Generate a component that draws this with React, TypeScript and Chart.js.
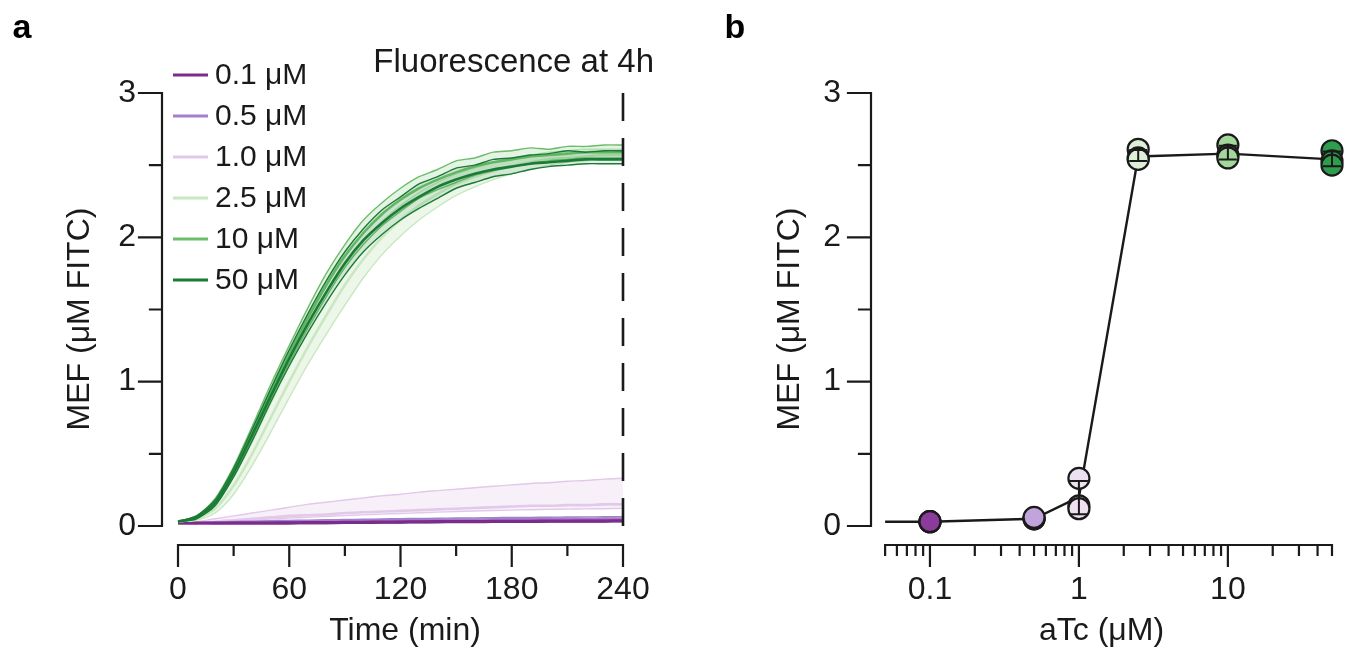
import React, { useEffect, useRef } from 'react';
import { Chart, registerables } from 'chart.js';

Chart.register(...registerables);

const FONT = '"Liberation Sans", Arial, Helvetica, sans-serif';
const INK = '#1a1a1a';

// ---------- Panel a: time courses ----------
const timeMin = [0, 10, 20, 30, 40, 50, 60, 70, 80, 90, 100, 110, 120, 130, 140, 150, 160, 170, 180, 190, 200, 210, 220, 230, 240];

const g50Mean = [0.03, 0.06, 0.16, 0.37, 0.63, 0.90, 1.16, 1.40, 1.62, 1.82, 1.98, 2.10, 2.20, 2.28, 2.35, 2.40, 2.44, 2.47, 2.49, 2.51, 2.52, 2.53, 2.54, 2.54, 2.54];
const g50Upper = [0.03, 0.07, 0.18, 0.40, 0.67, 0.95, 1.22, 1.47, 1.70, 1.90, 2.06, 2.19, 2.28, 2.37, 2.42, 2.48, 2.50, 2.54, 2.55, 2.57, 2.58, 2.60, 2.59, 2.60, 2.60];
const g50Lower = [0.03, 0.05, 0.14, 0.34, 0.59, 0.86, 1.11, 1.34, 1.55, 1.74, 1.90, 2.02, 2.12, 2.20, 2.27, 2.34, 2.38, 2.42, 2.44, 2.47, 2.49, 2.50, 2.51, 2.51, 2.51];

const g10Mean = [0.03, 0.06, 0.17, 0.38, 0.65, 0.93, 1.19, 1.44, 1.67, 1.87, 2.03, 2.16, 2.26, 2.34, 2.40, 2.45, 2.49, 2.52, 2.54, 2.56, 2.57, 2.58, 2.59, 2.59, 2.59];
const g10Upper = [0.03, 0.07, 0.19, 0.41, 0.69, 0.98, 1.25, 1.51, 1.75, 1.95, 2.12, 2.24, 2.34, 2.42, 2.47, 2.53, 2.55, 2.59, 2.60, 2.62, 2.61, 2.63, 2.63, 2.64, 2.64];
const g10Lower = [0.03, 0.05, 0.15, 0.35, 0.61, 0.88, 1.13, 1.37, 1.59, 1.79, 1.95, 2.08, 2.18, 2.27, 2.33, 2.38, 2.43, 2.46, 2.49, 2.51, 2.53, 2.54, 2.55, 2.55, 2.55];

const g25Mean = [0.03, 0.05, 0.12, 0.28, 0.50, 0.75, 1.00, 1.24, 1.46, 1.67, 1.85, 2.00, 2.12, 2.22, 2.30, 2.37, 2.42, 2.46, 2.49, 2.52, 2.54, 2.55, 2.56, 2.57, 2.57];
const g25Upper = [0.03, 0.06, 0.15, 0.34, 0.58, 0.85, 1.11, 1.36, 1.59, 1.80, 1.97, 2.11, 2.22, 2.31, 2.38, 2.44, 2.48, 2.52, 2.55, 2.57, 2.59, 2.60, 2.61, 2.61, 2.61];
const g25Lower = [0.03, 0.04, 0.09, 0.22, 0.42, 0.65, 0.89, 1.12, 1.33, 1.53, 1.72, 1.88, 2.01, 2.12, 2.21, 2.29, 2.35, 2.40, 2.44, 2.47, 2.50, 2.52, 2.53, 2.54, 2.54];

const p01Mean = [0.02, 0.02, 0.02, 0.02, 0.02, 0.02, 0.02, 0.022, 0.022, 0.024, 0.025, 0.026, 0.027, 0.028, 0.029, 0.03, 0.03, 0.031, 0.032, 0.032, 0.033, 0.033, 0.034, 0.034, 0.035];
const p01Upper = [0.022, 0.024, 0.025, 0.026, 0.027, 0.027, 0.028, 0.029, 0.03, 0.031, 0.032, 0.033, 0.034, 0.035, 0.036, 0.037, 0.037, 0.038, 0.039, 0.039, 0.04, 0.04, 0.041, 0.041, 0.042];
const p01Lower = [0.018, 0.017, 0.016, 0.016, 0.016, 0.016, 0.016, 0.017, 0.017, 0.018, 0.019, 0.02, 0.021, 0.022, 0.023, 0.024, 0.024, 0.025, 0.026, 0.026, 0.027, 0.027, 0.028, 0.028, 0.029];

const p05Mean = [0.02, 0.02, 0.022, 0.024, 0.026, 0.028, 0.03, 0.032, 0.034, 0.036, 0.038, 0.04, 0.041, 0.042, 0.043, 0.044, 0.045, 0.046, 0.047, 0.048, 0.049, 0.05, 0.05, 0.051, 0.052];
const p05Upper = [0.02, 0.024, 0.028, 0.031, 0.034, 0.037, 0.039, 0.041, 0.043, 0.045, 0.047, 0.049, 0.051, 0.052, 0.054, 0.055, 0.056, 0.058, 0.059, 0.06, 0.061, 0.062, 0.063, 0.064, 0.065];
const p05Lower = [0.02, 0.019, 0.019, 0.02, 0.021, 0.022, 0.023, 0.024, 0.026, 0.027, 0.029, 0.03, 0.031, 0.032, 0.033, 0.034, 0.035, 0.036, 0.037, 0.037, 0.038, 0.039, 0.04, 0.04, 0.041];

const p10Upper = [0.02, 0.03, 0.05, 0.07, 0.09, 0.11, 0.13, 0.15, 0.165, 0.18, 0.195, 0.21, 0.22, 0.235, 0.245, 0.255, 0.265, 0.275, 0.285, 0.295, 0.30, 0.31, 0.315, 0.325, 0.33];
const p10Mid = [0.02, 0.025, 0.03, 0.04, 0.05, 0.06, 0.07, 0.075, 0.08, 0.09, 0.095, 0.10, 0.105, 0.11, 0.115, 0.12, 0.125, 0.13, 0.135, 0.14, 0.14, 0.145, 0.145, 0.15, 0.15];
const p10Lower = [0.02, 0.022, 0.026, 0.032, 0.04, 0.048, 0.055, 0.06, 0.066, 0.072, 0.077, 0.082, 0.087, 0.092, 0.096, 0.1, 0.104, 0.107, 0.11, 0.113, 0.115, 0.117, 0.119, 0.12, 0.122];

const concLabels = ['0.1 μM', '0.5 μM', '1.0 μM', '2.5 μM', '10 μM', '50 μM'];
const concLineColors = ['#7b2d8b', '#a57fcb', '#e2c9e9', '#c9e7c1', '#6cbd69', '#1b7b36'];
const concBandColors = ['rgba(123,45,139,0.18)', 'rgba(165,127,203,0.18)', 'rgba(226,201,233,0.28)', 'rgba(201,231,193,0.35)', 'rgba(108,189,105,0.18)', 'rgba(27,123,54,0.12)'];

const timeMajor = [0, 60, 120, 180, 240];
const timeMinor = [30, 90, 150, 210];
const mefMajor = [0, 1, 2, 3];
const mefMinor = [0.5, 1.5, 2.5];
const readoutTime = 240;

// ---------- Panel b: dose response ----------
const aTcConc = [0.1, 0.5, 1, 2.5, 10, 50];
const rep1 = [0.03, 0.05, 0.33, 2.61, 2.64, 2.60];
const rep2 = [0.03, 0.05, 0.14, 2.55, 2.57, 2.53];
const rep3 = [0.03, 0.06, 0.12, 2.54, 2.55, 2.50];
const lineX = [0.05, 0.1, 0.5, 1, 2.5, 10, 50];
const lineY = [0.03, 0.03, 0.05, 0.2, 2.56, 2.58, 2.54];
const pointFills = ['#8a3b9b', '#c2a4dd', '#ede0f1', '#ddefd6', '#a3d79b', '#2f9d4e'];

const aTcMajor = [0.1, 1, 10];
const aTcMinor = [0.05, 0.06, 0.07, 0.08, 0.09, 0.2, 0.3, 0.4, 0.5, 0.6, 0.7, 0.8, 0.9, 2, 3, 4, 5, 6, 7, 8, 9, 20, 30, 40, 50];

// ---------- helpers ----------
const axesPlugin = {
  id: 'offsetAxes',
  afterDraw(chart: any, _a: any, o: any) {
    const { ctx, chartArea } = chart;
    const xs = chart.scales.x;
    const ys = chart.scales.y;
    ctx.save();
    ctx.strokeStyle = INK;
    ctx.lineWidth = 2.2;
    ctx.lineCap = 'square';
    ctx.beginPath();
    const yb = chartArea.bottom;
    const xv = [...o.xMajor, ...o.xMinor];
    ctx.moveTo(xs.getPixelForValue(Math.min(...xv)), yb);
    ctx.lineTo(xs.getPixelForValue(Math.max(...xv)), yb);
    for (const v of o.xMajor) {
      const p = xs.getPixelForValue(v);
      ctx.moveTo(p, yb);
      ctx.lineTo(p, yb + 21);
    }
    for (const v of o.xMinor) {
      const p = xs.getPixelForValue(v);
      ctx.moveTo(p, yb);
      ctx.lineTo(p, yb + 10);
    }
    const xl = chartArea.left;
    const yv = [...o.yMajor, ...o.yMinor];
    ctx.moveTo(xl, ys.getPixelForValue(Math.min(...yv)));
    ctx.lineTo(xl, ys.getPixelForValue(Math.max(...yv)));
    for (const v of o.yMajor) {
      const p = ys.getPixelForValue(v);
      ctx.moveTo(xl, p);
      ctx.lineTo(xl - 23, p);
    }
    for (const v of o.yMinor) {
      const p = ys.getPixelForValue(v);
      ctx.moveTo(xl, p);
      ctx.lineTo(xl - 12, p);
    }
    ctx.stroke();
    ctx.restore();
  },
};

const panelLabelPlugin = {
  id: 'panelLabel',
  afterDraw(chart: any, _a: any, o: any) {
    const { ctx } = chart;
    ctx.save();
    ctx.fillStyle = '#000';
    ctx.font = `bold 34px ${FONT}`;
    ctx.textAlign = 'center';
    ctx.textBaseline = 'middle';
    ctx.fillText(o.text, o.x, o.y);
    ctx.restore();
  },
};

const decorAPlugin = {
  id: 'decorA',
  afterDraw(chart: any) {
    const { ctx } = chart;
    const xs = chart.scales.x;
    const ys = chart.scales.y;
    ctx.save();
    // readout dashed line
    const xp = xs.getPixelForValue(readoutTime);
    ctx.strokeStyle = INK;
    ctx.lineWidth = 2.6;
    ctx.setLineDash([28, 17]);
    ctx.beginPath();
    ctx.moveTo(xp, ys.getPixelForValue(3));
    ctx.lineTo(xp, ys.getPixelForValue(0));
    ctx.stroke();
    ctx.setLineDash([]);
    // title
    ctx.fillStyle = INK;
    ctx.font = `33px ${FONT}`;
    ctx.textAlign = 'right';
    ctx.textBaseline = 'middle';
    ctx.fillText('Fluorescence at 4h', 654, 63);
    // legend
    ctx.font = `30px ${FONT}`;
    ctx.textAlign = 'left';
    concLabels.forEach((lab, i) => {
      const y = 75 + i * 41;
      ctx.strokeStyle = concLineColors[i];
      ctx.lineWidth = 3;
      ctx.beginPath();
      ctx.moveTo(173, y);
      ctx.lineTo(208, y);
      ctx.stroke();
      ctx.fillStyle = INK;
      ctx.fillText(lab, 215, y + 1);
    });
    ctx.restore();
  },
};

const errorBarPlugin = {
  id: 'errorBars',
  afterDatasetsDraw(chart: any) {
    const { ctx } = chart;
    const xs = chart.scales.x;
    const ys = chart.scales.y;
    ctx.save();
    ctx.strokeStyle = INK;
    ctx.lineWidth = 2;
    aTcConc.forEach((c, i) => {
      const vals = [rep1[i], rep2[i], rep3[i]];
      const m = vals.reduce((a, b) => a + b, 0) / vals.length;
      const sd = Math.sqrt(vals.reduce((a, b) => a + (b - m) * (b - m), 0) / (vals.length - 1));
      if (sd < 0.015) return;
      const x = xs.getPixelForValue(c);
      const yt = ys.getPixelForValue(m + sd);
      const ybt = ys.getPixelForValue(m - sd);
      ctx.beginPath();
      ctx.moveTo(x, yt);
      ctx.lineTo(x, ybt);
      ctx.moveTo(x - 9, yt);
      ctx.lineTo(x + 9, yt);
      ctx.moveTo(x - 9, ybt);
      ctx.lineTo(x + 9, ybt);
      ctx.stroke();
    });
    ctx.restore();
  },
};

const tickFont = { family: FONT, size: 32 };
const titleFont = { family: FONT, size: 32 };

function yScale(titlePad: number, tickPad: number, width: number) {
  return {
    type: 'linear',
    min: -0.1316,
    max: 3,
    grid: { display: false, drawTicks: false },
    border: { display: false },
    afterBuildTicks: (s: any) => {
      s.ticks = mefMajor.map((v) => ({ value: v }));
    },
    afterFit: (s: any) => {
      s.width = width;
    },
    ticks: { padding: tickPad, font: tickFont, color: INK, autoSkip: false, callback: (v: any) => String(v) },
    title: { display: true, text: 'MEF (μM FITC)', font: titleFont, color: INK, padding: { top: titlePad, bottom: 0 } },
  } as any;
}

function makeConfigA(): any {
  const seriesGroups = [
    { lines: [g50Mean, g50Upper, g50Lower], ci: 5 },
    { lines: [g10Mean, g10Upper, g10Lower], ci: 4 },
    { lines: [g25Mean, g25Upper, g25Lower], ci: 3 },
    { lines: [p01Mean, p01Upper, p01Lower], ci: 0 },
    { lines: [p05Mean, p05Upper, p05Lower], ci: 1 },
    { lines: [p10Mid, p10Upper, p10Lower], ci: 2 },
  ];
  const datasets: any[] = [];
  seriesGroups.forEach((g) => {
    const base = datasets.length;
    g.lines.forEach((arr, j) => {
      datasets.push({
        data: timeMin.map((t, k) => ({ x: t, y: arr[k] })),
        borderColor: concLineColors[g.ci],
        borderWidth: j === 0 ? 2.6 : 1.4,
        pointRadius: 0,
        tension: 0.25,
        fill: j === 1 ? { target: base + 2, above: concBandColors[g.ci], below: concBandColors[g.ci] } : false,
      });
    });
  });
  return {
    type: 'line',
    data: { datasets },
    options: {
      animation: false,
      responsive: false,
      maintainAspectRatio: false,
      layout: { padding: { top: 93, right: 42, left: 0, bottom: 0 } },
      plugins: {
        legend: { display: false },
        tooltip: { enabled: false },
        offsetAxes: { xMajor: timeMajor, xMinor: timeMinor, yMajor: mefMajor, yMinor: mefMinor },
        panelLabel: { text: 'a', x: 22, y: 29 },
      },
      scales: {
        x: {
          type: 'linear',
          min: -8.63,
          max: 253.48,
          grid: { display: false, drawTicks: false },
          border: { display: false },
          afterBuildTicks: (s: any) => {
            s.ticks = timeMajor.map((v) => ({ value: v }));
          },
          afterFit: (s: any) => {
            s.height = 109;
          },
          ticks: { padding: 26, font: tickFont, color: INK, autoSkip: false, maxRotation: 0, callback: (v: any) => String(v) },
          title: { display: true, text: 'Time (min)', font: titleFont, color: INK, padding: { top: 0, bottom: 4 } },
        },
        y: yScale(61, 26, 162),
      },
    },
    plugins: [axesPlugin, decorAPlugin, panelLabelPlugin],
  };
}

function makeConfigB(): any {
  const pts: any[] = [];
  const fills: string[] = [];
  [rep1, rep2, rep3].forEach((rep) => {
    aTcConc.forEach((c, i) => {
      pts.push({ x: c, y: rep[i] });
      fills.push(pointFills[i]);
    });
  });
  return {
    type: 'scatter',
    data: {
      datasets: [
        {
          type: 'scatter',
          data: pts,
          pointRadius: 10.5,
          pointBorderWidth: 2.2,
          pointBorderColor: INK,
          pointBackgroundColor: fills,
          clip: false,
        },
        {
          type: 'line',
          data: lineX.map((x, i) => ({ x, y: lineY[i] })),
          borderColor: INK,
          borderWidth: 2.4,
          pointRadius: 0,
          tension: 0,
          fill: false,
          clip: false,
        },
      ],
    },
    options: {
      animation: false,
      responsive: false,
      maintainAspectRatio: false,
      layout: { padding: { top: 93, right: 20, left: 0, bottom: 0 } },
      plugins: {
        legend: { display: false },
        tooltip: { enabled: false },
        offsetAxes: { xMajor: aTcMajor, xMinor: aTcMinor, yMajor: mefMajor, yMinor: mefMinor },
        panelLabel: { text: 'b', x: 45, y: 29 },
      },
      scales: {
        x: {
          type: 'logarithmic',
          min: 0.0402,
          max: 50,
          grid: { display: false, drawTicks: false },
          border: { display: false },
          afterBuildTicks: (s: any) => {
            s.ticks = aTcMajor.map((v) => ({ value: v }));
          },
          afterFit: (s: any) => {
            s.height = 109;
          },
          ticks: { padding: 26, font: tickFont, color: INK, autoSkip: false, maxRotation: 0, callback: (v: any) => String(v) },
          title: { display: true, text: 'aTc (μM)', font: titleFont, color: INK, padding: { top: 0, bottom: 4 } },
        },
        y: yScale(81, 30, 181),
      },
    },
    plugins: [axesPlugin, errorBarPlugin, panelLabelPlugin],
  };
}

function ChartCanvas({ left, width, make }: { left: number; width: number; make: () => any }) {
  const ref = useRef<HTMLCanvasElement>(null);
  useEffect(() => {
    const chart = new Chart(ref.current as HTMLCanvasElement, make());
    return () => chart.destroy();
  }, []);
  return (
    <canvas
      ref={ref}
      width={width}
      height={654}
      style={{ position: 'absolute', left, top: 0, width, height: 654 }}
    />
  );
}

export default function App() {
  return (
    <div style={{ position: 'fixed', left: 0, top: 0, width: 1352, height: 654, background: '#fff', overflow: 'hidden' }}>
      <ChartCanvas left={0} width={690} make={makeConfigA} />
      <ChartCanvas left={690} width={662} make={makeConfigB} />
    </div>
  );
}
